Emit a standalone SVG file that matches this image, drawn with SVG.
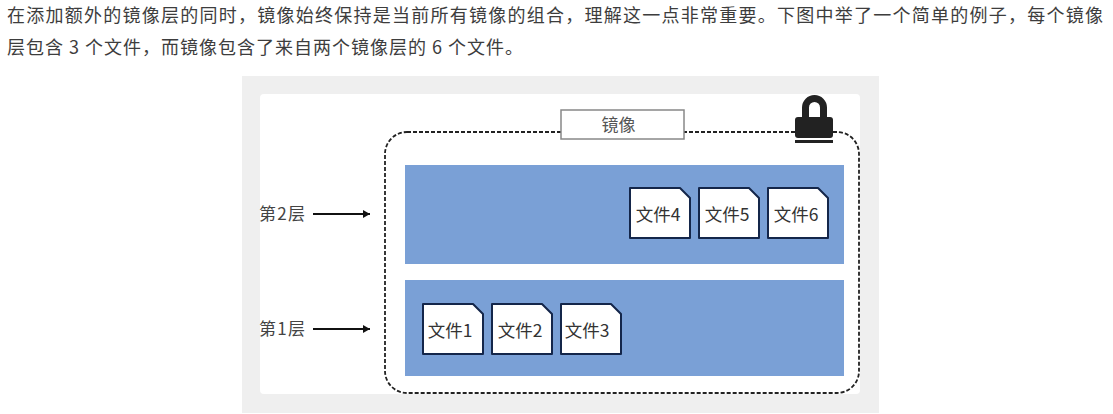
<svg xmlns="http://www.w3.org/2000/svg" width="1113" height="414" viewBox="0 0 1113 414">
<style>
text{font-family:"Noto Sans CJK SC","Liberation Sans",sans-serif}
.p{font-size:18px;fill:#3d3d3d}
.f{font-size:17.500px;fill:#333;text-anchor:middle}
.l{font-size:17px;fill:#444}
.layer{fill:#7aa0d6}
.doc{fill:#fff;stroke:#14264a;stroke-width:2;stroke-linejoin:round}
.arr{stroke:#111;stroke-width:2;fill:none;marker-end:url(#a)}
</style>
<defs><marker id="a" markerUnits="userSpaceOnUse" markerWidth="9" markerHeight="9" refX="7" refY="4" orient="auto"><path d="M0 0L7 4L0 8Z" fill="#111"/></marker>
<path id="d" d="M0 0H50L60 10V50H0Z"/></defs>
<rect width="1113" height="414" fill="#fff"/>
<text class="p" x="7" y="22" textLength="1096" lengthAdjust="spacing">在添加额外的镜像层的同时，镜像始终保持是当前所有镜像的组合，理解这一点非常重要。下图中举了一个简单的例子，每个镜像</text>
<text class="p" x="7" y="54" textLength="516" lengthAdjust="spacing">层包含 3 个文件，而镜像包含了来自两个镜像层的 6 个文件。</text>
<rect x="242" y="76" width="637" height="337" fill="#efefef"/>
<rect x="260" y="94" width="600" height="300" rx="4" fill="#fff"/>
<g id="connectors">
<rect x="385" y="132" width="474" height="261" rx="22" fill="none" stroke="#222" stroke-width="1.800" stroke-dasharray="4 2"/>
<path class="arr" d="M313 214H370"/>
<path class="arr" d="M313 329H370"/>
</g>
<g id="layer2"><rect class="layer" x="405" y="165" width="439" height="99"/></g>
<g id="layer1"><rect class="layer" x="405" y="280" width="439" height="96"/></g>
<g id="label-image"><rect x="561" y="110" width="123" height="29" fill="#fff" stroke="#888" stroke-width="1.500"/><text x="618.500" y="131" fill="#555" text-anchor="middle" style="font-size:17px">镜像</text></g>
<g id="lock"><path d="M805.500 118V107.500A9 9 0 0 1 823.500 107.500V118" fill="none" stroke="#222" stroke-width="7"/><rect x="795" y="117" width="38" height="21" rx="3" fill="#222"/><rect x="795" y="140" width="38" height="3" fill="#222"/></g>
<g id="label-2"><text class="l" x="259" y="220" textLength="46" lengthAdjust="spacing">第2层</text></g>
<g id="label-1"><text class="l" x="259" y="335" textLength="46" lengthAdjust="spacing">第1层</text></g>
<g id="file4"><use class="doc" href="#d" x="630" y="188"/><text class="f" x="658" y="221">文件4</text></g>
<g id="file5"><use class="doc" href="#d" x="699" y="188"/><text class="f" x="727" y="221">文件5</text></g>
<g id="file6"><use class="doc" href="#d" x="768" y="188"/><text class="f" x="796" y="221">文件6</text></g>
<g id="file1"><use class="doc" href="#d" x="423" y="304"/><text class="f" x="450" y="337">文件1</text></g>
<g id="file2"><use class="doc" href="#d" x="492" y="304"/><text class="f" x="520" y="337">文件2</text></g>
<g id="file3"><use class="doc" href="#d" x="561" y="304"/><text class="f" x="587" y="337">文件3</text></g>
</svg>
